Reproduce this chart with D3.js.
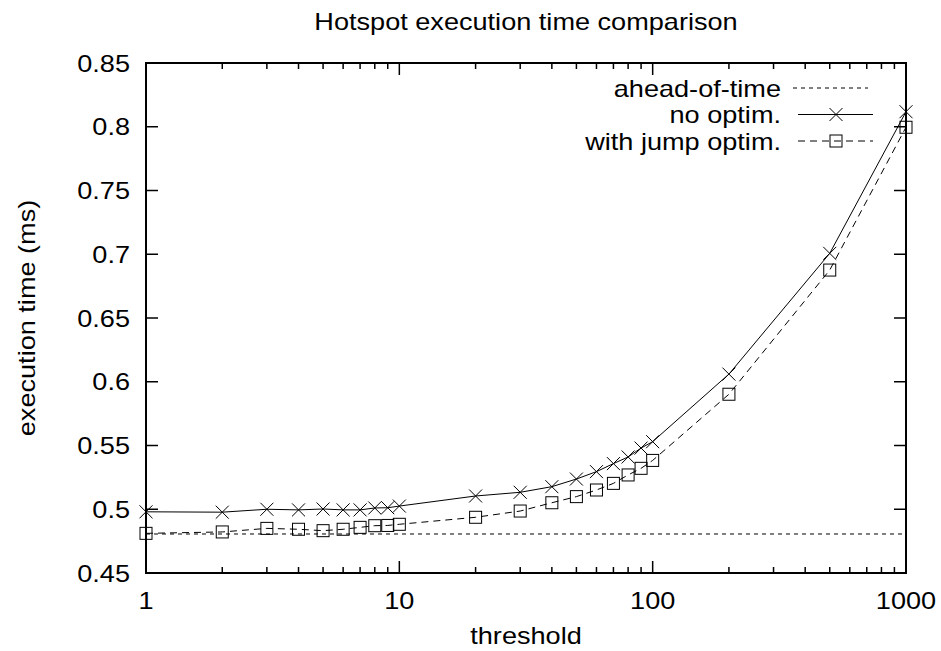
<!DOCTYPE html>
<html>
<head>
<meta charset="utf-8">
<script src="https://cdn.jsdelivr.net/npm/d3@7"></script>
<style>
  html, body { margin: 0; padding: 0; background: #fff; }
  svg text { font-family: "Liberation Sans", Arial, Helvetica, sans-serif; fill: #000; }
</style>
</head>
<body>
<svg id="chart" width="941" height="651"></svg>
<script>
const thresholds = [1, 2, 3, 4, 5, 6, 7, 8, 9, 10, 20, 30, 40, 50, 60, 70, 80, 90, 100, 200, 500, 1000];
const noOptim = [0.498, 0.4977, 0.5, 0.4995, 0.5002, 0.4995, 0.4995, 0.501, 0.5012, 0.5025,
  0.5104, 0.5133, 0.5177, 0.5237, 0.5295, 0.5358, 0.541, 0.548, 0.553, 0.606, 0.7007, 0.8118];
const jumpOptim = [0.4811, 0.4822, 0.485, 0.4843, 0.4832, 0.4843, 0.4858, 0.4871, 0.4873, 0.4882,
  0.4937, 0.4986, 0.5051, 0.5099, 0.5151, 0.5203, 0.5269, 0.5321, 0.5383, 0.5902, 0.6876, 0.7996];
const aheadOfTime = [0.4806, 0.4806];
const aheadX = [1, 1000];
const yTicks = [0.45, 0.5, 0.55, 0.6, 0.65, 0.7, 0.75, 0.8, 0.85];
const yTickLabels = ["0.45", "0.5", "0.55", "0.6", "0.65", "0.7", "0.75", "0.8", "0.85"];
const xMajor = [1, 10, 100, 1000];
const xMajorLabels = ["1", "10", "100", "1000"];
const xMinor = [2,3,4,5,6,7,8,9,20,30,40,50,60,70,80,90,200,300,400,500,600,700,800,900];
const legendLabels = ["ahead-of-time", "no optim.", "with jump optim."];

const FS = 24;
const SX = 1.13;
const L = 146, R = 906, T = 63, B = 573;
const svg = d3.select("#chart");
const x = d3.scaleLog().domain([1, 1000]).range([L, R]);
const y = d3.scaleLinear().domain([0.45, 0.85]).range([B, T]);

function label(px, py, str, anchor, rot, dy) {
  return svg.append("text")
    .attr("transform", `translate(${px},${py})` + (rot ? ` rotate(${rot})` : "") + ` scale(${SX},1)`)
    .attr("text-anchor", anchor).attr("dy", dy || 0).attr("font-size", FS).text(str);
}

// Ticks (inward, mirrored)
const g = svg.append("g");
const axisStyle = s => s.attr("stroke", "#000").attr("stroke-width", 1.5);
yTicks.forEach(v => {
  g.append("line").attr("x1", L).attr("x2", L + 12).attr("y1", y(v)).attr("y2", y(v)).call(axisStyle);
  g.append("line").attr("x1", R).attr("x2", R - 12).attr("y1", y(v)).attr("y2", y(v)).call(axisStyle);
});
xMajor.forEach(v => {
  g.append("line").attr("x1", x(v)).attr("x2", x(v)).attr("y1", B).attr("y2", B - 12).call(axisStyle);
  g.append("line").attr("x1", x(v)).attr("x2", x(v)).attr("y1", T).attr("y2", T + 12).call(axisStyle);
});
xMinor.forEach(v => {
  g.append("line").attr("x1", x(v)).attr("x2", x(v)).attr("y1", B).attr("y2", B - 6).call(axisStyle);
  g.append("line").attr("x1", x(v)).attr("x2", x(v)).attr("y1", T).attr("y2", T + 6).call(axisStyle);
});

// tick labels
yTicks.forEach((v, i) => label(L - 16, y(v), yTickLabels[i], "end", 0, "0.36em"));
xMajor.forEach((v, i) => label(x(v), 609, xMajorLabels[i], "middle"));

// Data lines
const line = d3.line().x(d => x(d[0])).y(d => y(d[1]));
const aotData = aheadX.map((t, i) => [t, aheadOfTime[i]]);
const noData = thresholds.map((t, i) => [t, noOptim[i]]);
const jumpData = thresholds.map((t, i) => [t, jumpOptim[i]]);

svg.append("path").datum(aotData).attr("d", line).attr("fill", "none")
  .attr("stroke", "#000").attr("stroke-width", 1).attr("stroke-dasharray", "4,4");
svg.append("path").datum(noData).attr("d", line).attr("fill", "none")
  .attr("stroke", "#000").attr("stroke-width", 1);
svg.append("path").datum(jumpData).attr("d", line).attr("fill", "none")
  .attr("stroke", "#000").attr("stroke-width", 1).attr("stroke-dasharray", "7,5");

function cross(sel, cx, cy) {
  const s = 6.5;
  sel.append("path").attr("d", `M${cx - s},${cy - s}L${cx + s},${cy + s}M${cx - s},${cy + s}L${cx + s},${cy - s}`)
    .attr("stroke", "#000").attr("stroke-width", 1).attr("fill", "none");
}
function square(sel, cx, cy) {
  const s = 6;
  sel.append("rect").attr("x", cx - s).attr("y", cy - s).attr("width", 2 * s).attr("height", 2 * s)
    .attr("stroke", "#000").attr("stroke-width", 1).attr("fill", "none");
}
const mk = svg.append("g");
noData.forEach(d => cross(mk, x(d[0]), y(d[1])));
jumpData.forEach(d => square(mk, x(d[0]), y(d[1])));

// Frame
svg.append("rect").attr("x", L).attr("y", T).attr("width", R - L).attr("height", B - T)
  .attr("fill", "none").attr("stroke", "#000").attr("stroke-width", 2);

// Legend
const legY = [88, 114.5, 141];
const lx1 = 798, lx2 = 873, lmid = 836, ltext = 781;
legendLabels.forEach((lab, i) => label(ltext, legY[i], lab, "end", 0, "0.36em"));
svg.append("line").attr("x1", 793).attr("x2", 868).attr("y1", legY[0]).attr("y2", legY[0])
  .attr("stroke", "#000").attr("stroke-width", 1).attr("stroke-dasharray", "4,4");
svg.append("line").attr("x1", lx1).attr("x2", lx2).attr("y1", legY[1]).attr("y2", legY[1])
  .attr("stroke", "#000").attr("stroke-width", 1);
cross(svg, lmid, legY[1]);
svg.append("line").attr("x1", lx1).attr("x2", lx2).attr("y1", legY[2]).attr("y2", legY[2])
  .attr("stroke", "#000").attr("stroke-width", 1).attr("stroke-dasharray", "7,5");
square(svg, lmid, legY[2]);

// Titles
label(526, 30, "Hotspot execution time comparison", "middle");
label(526, 644, "threshold", "middle");
label(35, 318, "execution time (ms)", "middle", -90);
</script>
</body>
</html>
